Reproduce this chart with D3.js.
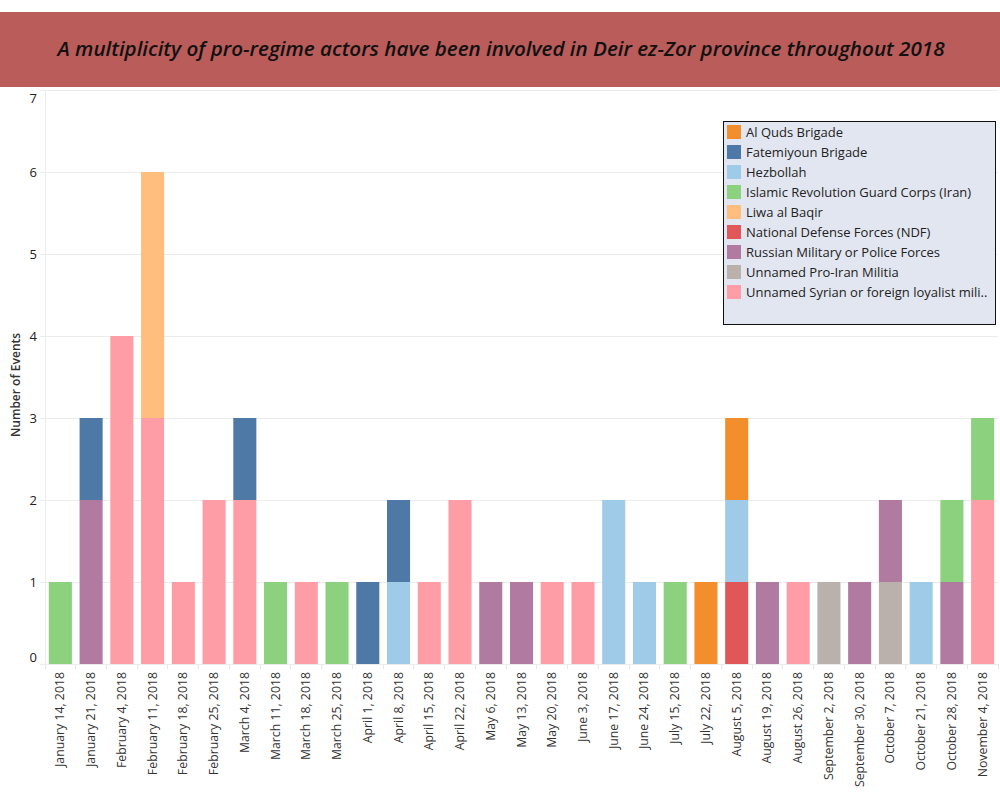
<!DOCTYPE html>
<html><head><meta charset="utf-8">
<script src="https://cdn.jsdelivr.net/npm/d3@7"></script>
<style>body{margin:0;background:#fff;} svg{display:block;font-family:"Open Sans",sans-serif;}</style>
</head><body><svg id="c" width="1000" height="800"></svg>
<script>
const titleText = "A multiplicity of pro-regime actors have been involved in Deir ez-Zor province throughout 2018";
const dates = ["January 14, 2018","January 21, 2018","February 4, 2018","February 11, 2018","February 18, 2018","February 25, 2018","March 4, 2018","March 11, 2018","March 18, 2018","March 25, 2018","April 1, 2018","April 8, 2018","April 15, 2018","April 22, 2018","May 6, 2018","May 13, 2018","May 20, 2018","June 3, 2018","June 17, 2018","June 24, 2018","July 15, 2018","July 22, 2018","August 5, 2018","August 19, 2018","August 26, 2018","September 2, 2018","September 30, 2018","October 7, 2018","October 21, 2018","October 28, 2018","November 4, 2018"];
const groups = ["Al Quds Brigade","Fatemiyoun Brigade","Hezbollah","Islamic Revolution Guard Corps (Iran)","Liwa al Baqir","National Defense Forces (NDF)","Russian Military or Police Forces","Unnamed Pro-Iran Militia","Unnamed Syrian or foreign loyalist mili.."];
const colors = ["#f28e2b","#4e79a7","#a0cbe8","#8cd17d","#ffbe7d","#e15759","#b07aa1","#bab0ac","#ff9da7"];
// values per group, aligned with dates
const alQuds      = [0,0,0,0,0,0,0,0,0,0,0,0,0,0,0,0,0,0,0,0,0,1,1,0,0,0,0,0,0,0,0];
const fatemiyoun  = [0,1,0,0,0,0,1,0,0,0,1,1,0,0,0,0,0,0,0,0,0,0,0,0,0,0,0,0,0,0,0];
const hezbollah   = [0,0,0,0,0,0,0,0,0,0,0,1,0,0,0,0,0,0,2,1,0,0,1,0,0,0,0,0,1,0,0];
const irgc        = [1,0,0,0,0,0,0,1,0,1,0,0,0,0,0,0,0,0,0,0,1,0,0,0,0,0,0,0,0,1,1];
const liwa        = [0,0,0,3,0,0,0,0,0,0,0,0,0,0,0,0,0,0,0,0,0,0,0,0,0,0,0,0,0,0,0];
const ndf         = [0,0,0,0,0,0,0,0,0,0,0,0,0,0,0,0,0,0,0,0,0,0,1,0,0,0,0,0,0,0,0];
const russian     = [0,2,0,0,0,0,0,0,0,0,0,0,0,0,1,1,0,0,0,0,0,0,0,1,0,0,1,1,0,1,0];
const proIran     = [0,0,0,0,0,0,0,0,0,0,0,0,0,0,0,0,0,0,0,0,0,0,0,0,0,1,0,1,0,0,0];
const syrian      = [0,0,4,3,1,2,2,0,1,0,0,0,1,2,0,0,1,1,0,0,0,0,0,0,1,0,0,0,0,0,2];
const yTicks = [0,1,2,3,4,5,6,7];

const series = [alQuds,fatemiyoun,hezbollah,irgc,liwa,ndf,russian,proIran,syrian];
const table = dates.map((d,i)=>{const o={date:d}; groups.forEach((g,j)=>o[g]=series[j][i]); return o;});
const stackOrder = groups.slice().reverse(); // bottom to top
const stacked = d3.stack().keys(stackOrder)(table);
const color = d3.scaleOrdinal().domain(groups).range(colors);

const svg = d3.select("#c");
// title banner
svg.append("rect").attr("x",0).attr("y",12).attr("width",1000).attr("height",75).attr("fill","#b95c5a");
svg.append("text").attr("x",501).attr("y",56).attr("text-anchor","middle")
  .attr("font-family","'Open Sans', sans-serif").attr("font-style","italic").attr("font-weight",600).attr("font-size",20)
  .attr("fill","#111").attr("textLength",887).attr("lengthAdjust","spacingAndGlyphs").text(titleText);

const L=45, R=998, T=90, B=664;
const x = d3.scaleBand().domain(dates).range([L,R]).paddingInner(0.25).paddingOuter(0.125);
const y = d3.scaleLinear().domain([0,7]).range([B,T]);

// gridlines
svg.append("g").selectAll("line").data(yTicks).join("line")
  .attr("x1",40).attr("x2",R).attr("y1",d=>y(d)).attr("y2",d=>y(d))
  .attr("stroke","#ececec").attr("stroke-width",1).attr("shape-rendering","crispEdges");
// y axis line
svg.append("line").attr("x1",L).attr("x2",L).attr("y1",T).attr("y2",B+4).attr("stroke","#ececec").attr("shape-rendering","crispEdges");

// bars
svg.append("g").selectAll("g").data(stacked).join("g").attr("fill",d=>color(d.key))
  .selectAll("rect").data(d=>d).join("rect")
  .attr("x",d=>x(d.data.date)).attr("width",x.bandwidth())
  .attr("y",d=>y(d[1])).attr("height",d=>y(d[0])-y(d[1]));

// y tick labels
svg.append("g").selectAll("text").data(yTicks).join("text")
  .attr("x",37).attr("y",d=>{let v=y(d); if(d===0) v-=7; if(d===7) v+=8; return v;})
  .attr("dy","0.35em").attr("text-anchor","end").attr("font-size",13).attr("fill","#222").text(d=>d);
// y title
svg.append("text").attr("transform","translate(20,"+((T+B)/2+8)+") rotate(-90)")
  .attr("text-anchor","middle").attr("font-size",12).attr("font-weight","600").attr("fill","#333").text("Number of Events");

// x ticks at boundaries
const step = x.step();
const bounds = d3.range(dates.length+1).map(i=>L+ (i===0?0:(x(dates[i-1])+x.bandwidth()+ (step-x.bandwidth())/2) - L));
svg.append("g").selectAll("line").data(bounds).join("line")
  .attr("x1",d=>d).attr("x2",d=>d).attr("y1",B).attr("y2",B+5).attr("stroke","#e6e6e6").attr("shape-rendering","crispEdges");
svg.append("line").attr("x1",L).attr("x2",R).attr("y1",B).attr("y2",B).attr("stroke","#ececec").attr("shape-rendering","crispEdges");
// x labels
svg.append("g").selectAll("text").data(dates).join("text")
  .attr("transform",d=>"translate("+(x(d)+x.bandwidth()/2+4)+","+(B+8)+") rotate(-90)")
  .attr("text-anchor","end").attr("font-size",12.3).attr("fill","#333").text(d=>d);

// legend
const lg = svg.append("g").attr("transform","translate(723,121)");
lg.append("rect").attr("x",0.5).attr("y",0.5).attr("width",272).attr("height",203).attr("fill","#e2e6f0").attr("stroke","#111");
const items = lg.selectAll("g").data(groups).join("g").attr("transform",(d,i)=>"translate(4,"+(4+i*20)+")");
items.append("rect").attr("width",14).attr("height",14).attr("fill",d=>color(d));
items.append("text").attr("x",19).attr("y",7).attr("dy","0.35em").attr("font-size",13).attr("fill","#222").text(d=>d);
</script></body></html>
